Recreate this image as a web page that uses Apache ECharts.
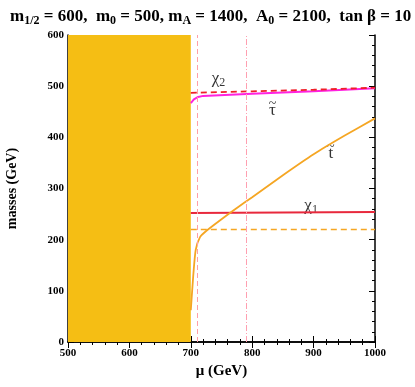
<!DOCTYPE html>
<html>
<head>
<meta charset="utf-8">
<script src="https://cdn.jsdelivr.net/npm/echarts@6/dist/echarts.min.js"></script>
<style>html,body{margin:0;padding:0;background:#fff}#chart{width:415px;height:387px}</style>
</head>
<body>
<div id="chart"></div>
<script>
// excluded region and reference lines
var excludedMu = [500, 700];
var muDashed = 710;
var muDashDot = 790;

// chi_2 (dashed red)
var chi2Mu = [700, 800, 900, 1000];
var chi2Mass = [487, 490, 493, 497];
// stau (magenta)
var stauMu = [700, 705, 712, 720, 800, 900, 1000];
var stauMass = [467, 474, 479, 481, 485, 490, 496];
// stop (orange)
var stopMu = [700, 704, 708, 715, 725, 750, 775, 800, 850, 900, 950, 1000];
var stopMass = [62, 130, 180, 205, 217, 240, 262, 283, 326, 367, 403, 437];
// chi_1 (red)
var chi1Mu = [700, 1000];
var chi1Mass = [252, 254];
// orange dashed
var dashMu = [700, 1000];
var dashMass = [220, 220];

// curve labels: mu, mass, text
var labelPos = [
    [745, 515, '{g|χ}{s|2}'],
    [833, 453, '{g|τ}'], [833, 464, '{t|~}'],
    [928, 368, '{g|t}'], [928, 380, '{t|~}'],
    [896, 267, '{g|χ}{s|1}']
];

function pairs(xs, ys) {
    var out = [];
    for (var i = 0; i < xs.length; i++) out.push([xs[i], ys[i]]);
    return out;
}

var serif = 'Liberation Serif';
var tickStyle = {show: true, inside: true, length: 6, lineStyle: {color: '#000', width: 1}};
var minorStyle = {show: true, splitNumber: 5, length: 3, lineStyle: {color: '#000', width: 1}};
var lineAx = {show: true, lineStyle: {color: '#000', width: 1.5}};

var myechart = echarts.init(document.getElementById('chart'));
var option = {
    backgroundColor: '#fff',
    animation: false,
    title: {
        text: '{b|m}{s|1/2}{b| = 600,  m}{s|0}{b| = 500, m}{s|A}{b| = 1400,  A}{s|0}{b| = 2100,  tan β = 10}',
        left: 5, top: 2,
        textStyle: {
            rich: {
                b: {fontFamily: serif, fontWeight: 'bold', fontSize: 17, color: '#000'},
                s: {fontFamily: serif, fontWeight: 'bold', fontSize: 12, color: '#000', verticalAlign: 'bottom', padding: [8, 0, 0, 0]}
            }
        }
    },
    grid: {left: 68, right: 40, top: 35, bottom: 45, outerBoundsMode: 'none'},
    xAxis: [{
        type: 'value', min: 500, max: 1000, interval: 100, position: 'bottom',
        name: 'μ (GeV)', nameLocation: 'middle', nameGap: 20,
        nameTextStyle: {fontFamily: serif, fontWeight: 'bold', fontSize: 15, color: '#000'},
        axisLine: lineAx, axisTick: tickStyle, minorTick: minorStyle, splitLine: {show: false},
        axisLabel: {fontFamily: serif, fontWeight: 'bold', fontSize: 11, color: '#000', margin: 6,
            formatter: function (v) { return String(v); }}
    }, {
        type: 'value', min: 500, max: 1000, interval: 100, position: 'top',
        axisLine: lineAx, axisTick: tickStyle, minorTick: minorStyle, splitLine: {show: false},
        axisLabel: {show: false}
    }],
    yAxis: [{
        type: 'value', min: 0, max: 600, interval: 100, position: 'left',
        name: 'masses (GeV)', nameLocation: 'middle', nameGap: 49,
        nameTextStyle: {fontFamily: serif, fontWeight: 'bold', fontSize: 14, color: '#000'},
        axisLine: lineAx, axisTick: tickStyle, minorTick: minorStyle, splitLine: {show: false},
        axisLabel: {fontFamily: serif, fontWeight: 'bold', fontSize: 11, color: '#000', margin: 4}
    }, {
        type: 'value', min: 0, max: 600, interval: 100, position: 'right',
        axisLine: lineAx, axisTick: tickStyle, minorTick: minorStyle, splitLine: {show: false},
        axisLabel: {show: false}
    }],
    series: [{
        type: 'line', data: [], silent: true,
        markArea: {
            silent: true,
            itemStyle: {color: '#F5BE14', opacity: 1},
            data: [[{xAxis: excludedMu[0], yAxis: 0}, {xAxis: excludedMu[1], yAxis: 600}]]
        },
        markLine: {
            silent: true, symbol: 'none', label: {show: false},
            data: [
                {xAxis: muDashed, lineStyle: {color: '#FF9FA8', width: 1, type: [5, 3]}},
                {xAxis: muDashDot, lineStyle: {color: '#FF9FB0', width: 1, type: [6, 2, 1, 2]}}
            ]
        }
    }, {
        type: 'line', data: pairs(dashMu, dashMass), showSymbol: false,
        lineStyle: {color: '#F5A623', width: 1.5, type: [6, 4]}
    }, {
        type: 'line', data: pairs(chi1Mu, chi1Mass), showSymbol: false,
        lineStyle: {color: '#E8283C', width: 2}
    }, {
        type: 'line', data: pairs(stopMu, stopMass), showSymbol: false, smooth: 0.2,
        lineStyle: {color: '#F5A623', width: 1.8}
    }, {
        type: 'line', data: pairs(stauMu, stauMass), showSymbol: false,
        lineStyle: {color: '#FF22E0', width: 2}
    }, {
        type: 'line', data: pairs(chi2Mu, chi2Mass), showSymbol: false,
        lineStyle: {color: '#F01E28', width: 1.8, type: [6, 4]}
    }, {
        type: 'scatter', symbolSize: 0, silent: true,
        data: labelPos.map(function (p) { return {value: [p[0], p[1]], name: p[2]}; }),
        label: {
            show: true, position: 'inside',
            formatter: function (p) { return p.name; },
            rich: {
                g: {fontFamily: serif, fontSize: 17, color: '#000'},
                t: {fontFamily: serif, fontSize: 14, color: '#000'},
                s: {fontFamily: serif, fontSize: 12, color: '#000', verticalAlign: 'bottom', padding: [8, 0, 0, 0]}
            }
        }
    }]
};
myechart.setOption(option);
</script>
</body>
</html>
